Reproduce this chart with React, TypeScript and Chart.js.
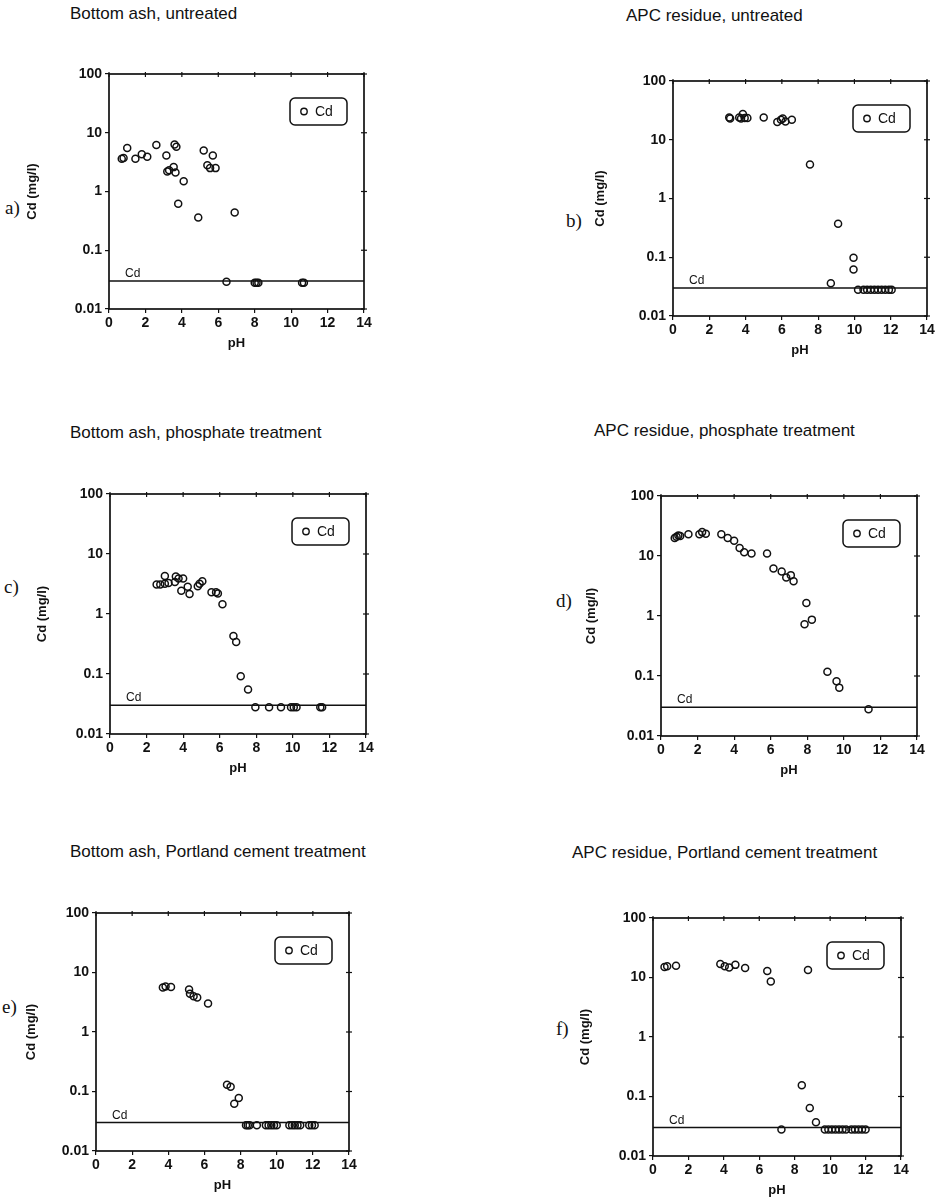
import React, { useEffect, useRef } from 'react';
import { Chart, registerables } from 'chart.js';

Chart.register(...registerables);
Chart.defaults.font.family = "'Liberation Sans', Arial, Helvetica, sans-serif";

// ---------- data ----------
const PH_A = [0.7, 0.8, 1.0, 1.45, 1.8, 2.1, 2.6, 3.15, 3.2, 3.3, 3.55, 3.6, 3.65, 3.7, 3.8, 4.1, 4.9, 5.2, 5.4, 5.55, 5.7, 5.85, 6.9, 6.45, 8.0, 8.1, 8.2, 10.6, 10.7];
const CD_A = [3.6, 3.7, 5.5, 3.6, 4.3, 3.9, 6.2, 4.1, 2.2, 2.3, 2.6, 6.3, 2.1, 5.8, 0.62, 1.5, 0.36, 5.0, 2.8, 2.5, 4.1, 2.5, 0.44, 0.029, 0.028, 0.028, 0.028, 0.028, 0.028];

const PH_B = [3.1, 3.15, 3.65, 3.75, 3.85, 3.95, 4.1, 5.0, 5.75, 5.95, 6.05, 6.2, 6.55, 7.55, 9.1, 9.95, 9.95, 8.7, 10.2, 10.5, 10.7, 10.9, 11.1, 11.3, 11.5, 11.7, 11.9, 12.05];
const CD_B = [24, 23, 24, 23, 27.5, 23.5, 23.5, 24, 20, 22, 23, 20.5, 22, 3.8, 0.37, 0.098, 0.062, 0.036, 0.028, 0.028, 0.028, 0.028, 0.028, 0.028, 0.028, 0.028, 0.028, 0.028];

const PH_C = [2.55, 2.75, 3.0, 3.0, 3.2, 3.55, 3.6, 3.75, 3.9, 4.0, 4.25, 4.35, 4.8, 4.9, 5.05, 5.55, 5.8, 5.9, 6.15, 6.75, 6.9, 7.15, 7.55, 7.95, 8.7, 9.35, 9.9, 10.05, 10.2, 11.5, 11.6];
const CD_C = [3.1, 3.1, 4.3, 3.2, 3.3, 3.4, 4.2, 3.9, 2.45, 3.9, 2.85, 2.15, 2.9, 3.2, 3.5, 2.3, 2.3, 2.2, 1.45, 0.43, 0.34, 0.092, 0.055, 0.028, 0.028, 0.028, 0.028, 0.028, 0.028, 0.028, 0.028];

const PH_D = [0.75, 0.85, 0.95, 1.05, 1.5, 2.1, 2.25, 2.45, 3.3, 3.65, 4.0, 4.3, 4.55, 4.95, 5.8, 6.15, 6.6, 6.85, 7.1, 7.25, 7.95, 7.85, 8.25, 9.1, 9.6, 9.75, 11.35];
const CD_D = [20, 21, 22, 21.5, 23, 23, 25, 23.5, 23, 20, 18, 13.6, 11.5, 11, 11, 6.2, 5.5, 4.4, 4.8, 3.8, 1.65, 0.73, 0.87, 0.118, 0.082, 0.064, 0.028];

const PH_E = [3.7, 3.85, 4.15, 5.15, 5.2, 5.4, 5.6, 6.2, 7.25, 7.45, 7.65, 7.9, 8.3, 8.4, 8.5, 8.9, 9.4, 9.55, 9.7, 9.85, 10.0, 10.7, 10.85, 11.0, 11.15, 11.3, 11.8, 11.95, 12.1];
const CD_E = [5.6, 5.8, 5.7, 5.2, 4.4, 4.0, 3.8, 3.0, 0.13, 0.12, 0.062, 0.078, 0.027, 0.027, 0.027, 0.027, 0.027, 0.027, 0.027, 0.027, 0.027, 0.027, 0.027, 0.027, 0.027, 0.027, 0.027, 0.027, 0.027];

const PH_F = [0.65, 0.8, 1.3, 3.8, 4.05, 4.3, 4.65, 5.2, 6.45, 6.65, 8.75, 8.4, 8.85, 9.2, 7.25, 9.7, 9.9, 10.1, 10.3, 10.5, 10.7, 10.9, 11.2, 11.4, 11.6, 11.8, 12.0];
const CD_F = [15, 15.5, 15.7, 16.8, 15.5, 14.7, 16.3, 14.4, 12.9, 8.6, 13.4, 0.155, 0.064, 0.037, 0.028, 0.028, 0.028, 0.028, 0.028, 0.028, 0.028, 0.028, 0.028, 0.028, 0.028, 0.028, 0.028];

const LIMIT_PH = [0, 14];
const LIMIT_CD = [0.03, 0.03];

const X_TICKS = [0, 2, 4, 6, 8, 10, 12, 14];
const Y_TICKS = [0.01, 0.1, 1, 10, 100];
const Y_TICK_LABELS = ['0.01', '0.1', '1', '10', '100'];
const SERIES_LABEL = 'Cd';
const X_TITLE = 'pH';
const Y_TITLE = 'Cd (mg/l)';

// ---------- layout (positions/styles only) ----------
type PanelCfg = {
  title: string; letter: string; ph: number[]; cd: number[];
  L: number; T: number; R: number; B: number; yGap: number;
  titleX: number; titleY: number; letterX: number; letterY: number;
};

const PANELS: PanelCfg[] = [
  { title: 'Bottom ash, untreated', letter: 'a)', ph: PH_A, cd: CD_A, L: 109, T: 74, R: 364, B: 309, yGap: 76, titleX: 70, titleY: 4, letterX: 5, letterY: 197 },
  { title: 'APC residue, untreated', letter: 'b)', ph: PH_B, cd: CD_B, L: 673, T: 81, R: 927, B: 316, yGap: 72, titleX: 626, titleY: 6, letterX: 566, letterY: 210 },
  { title: 'Bottom ash, phosphate treatment', letter: 'c)', ph: PH_C, cd: CD_C, L: 110, T: 494, R: 366, B: 734, yGap: 67, titleX: 70, titleY: 423, letterX: 4, letterY: 576 },
  { title: 'APC residue, phosphate treatment', letter: 'd)', ph: PH_D, cd: CD_D, L: 661, T: 496, R: 917, B: 736, yGap: 69, titleX: 594, titleY: 421, letterX: 556, letterY: 590 },
  { title: 'Bottom ash, Portland cement treatment', letter: 'e)', ph: PH_E, cd: CD_E, L: 96, T: 913, R: 349, B: 1151, yGap: 64, titleX: 70, titleY: 842, letterX: 2, letterY: 996 },
  { title: 'APC residue, Portland cement treatment', letter: 'f)', ph: PH_F, cd: CD_F, L: 653, T: 918, R: 901, B: 1156, yGap: 67, titleX: 572, titleY: 843, letterX: 556, letterY: 1018 },
];

const INK = '#111';
const PT = 20, PR = 10, XH = 42;

const framePlugin = {
  id: 'frame',
  afterDraw(chart: any) {
    const { ctx, chartArea, scales } = chart;
    const { left, top, right, bottom } = chartArea;
    const x = scales.x, y = scales.y;
    ctx.save();
    ctx.strokeStyle = INK;
    ctx.lineWidth = 1.7;
    ctx.strokeRect(left, top, right - left, bottom - top);
    ctx.lineWidth = 1.2;
    Y_TICKS.forEach((v) => {
      const py = y.getPixelForValue(v);
      ctx.beginPath(); ctx.moveTo(right - 3, py); ctx.lineTo(right + 3, py); ctx.stroke();
    });
    X_TICKS.forEach((v) => {
      const px = x.getPixelForValue(v);
      ctx.beginPath(); ctx.moveTo(px, top - 2); ctx.lineTo(px, top + 3); ctx.stroke();
    });
    // label of the detection-limit line
    const ly = y.getPixelForValue(LIMIT_CD[0]);
    ctx.fillStyle = INK;
    ctx.font = "12px 'Liberation Sans', Arial, sans-serif";
    ctx.textBaseline = 'alphabetic';
    ctx.textAlign = 'left';
    ctx.fillText(SERIES_LABEL, left + 16, ly - 4);
    // legend box
    const bw = 57, bh = 27;
    const bx = right - 17 - bw, by = top + 24;
    ctx.lineWidth = 1.5;
    ctx.beginPath();
    (ctx as any).roundRect(bx, by, bw, bh, 5);
    ctx.fillStyle = '#fff';
    ctx.fill();
    ctx.stroke();
    ctx.lineWidth = 1.4;
    ctx.beginPath();
    ctx.arc(bx + 14, by + bh / 2, 3.2, 0, Math.PI * 2);
    ctx.stroke();
    ctx.fillStyle = INK;
    ctx.font = "14px 'Liberation Sans', Arial, sans-serif";
    ctx.textBaseline = 'middle';
    ctx.fillText(SERIES_LABEL, bx + 25, by + bh / 2 + 1);
    ctx.restore();
  },
};

function Panel({ cfg }: { cfg: PanelCfg }) {
  const ref = useRef<HTMLCanvasElement>(null);
  const YW = cfg.yGap + 8;
  const left = cfg.L - YW;
  const top = cfg.T - PT;
  const width = YW + (cfg.R - cfg.L) + PR;
  const height = PT + (cfg.B - cfg.T) + XH;

  useEffect(() => {
    if (!ref.current) return;
    const chart = new Chart(ref.current, {
      type: 'scatter',
      data: {
        datasets: [
          {
            label: SERIES_LABEL,
            data: cfg.ph.map((v, i) => ({ x: v, y: cfg.cd[i] })),
            pointStyle: 'circle',
            pointRadius: 3.5,
            pointBorderWidth: 1.5,
            pointBorderColor: INK,
            pointBackgroundColor: 'rgba(255,255,255,0)',
          },
          {
            label: 'limit',
            data: LIMIT_PH.map((v, i) => ({ x: v, y: LIMIT_CD[i] })),
            showLine: true,
            borderColor: INK,
            borderWidth: 1.5,
            pointRadius: 0,
          },
        ],
      } as any,
      options: {
        animation: false,
        responsive: false,
        devicePixelRatio: 1,
        layout: { padding: { top: PT, right: PR, left: 0, bottom: 0 } },
        plugins: { legend: { display: false }, tooltip: { enabled: false } },
        scales: {
          x: {
            type: 'linear', min: 0, max: 14,
            afterBuildTicks: (s: any) => { s.ticks = X_TICKS.map((v) => ({ value: v })); },
            afterFit: (s: any) => { s.height = XH; },
            ticks: { font: { size: 14, weight: 'bold' }, color: INK, padding: 2, maxRotation: 0, autoSkip: false },
            grid: { drawOnChartArea: false, tickLength: 4, color: INK, lineWidth: 1.2 },
            border: { display: false },
            title: { display: true, text: X_TITLE, font: { size: 13, weight: 'bold', lineHeight: 1.2 }, color: INK, padding: 0 },
          },
          y: {
            type: 'logarithmic', min: 0.01, max: 100,
            afterBuildTicks: (s: any) => { s.ticks = Y_TICKS.map((v) => ({ value: v })); },
            afterFit: (s: any) => { s.width = YW; },
            ticks: {
              font: { size: 14, weight: 'bold' }, color: INK, padding: 3, autoSkip: false,
              callback: (v: any) => {
                const i = Y_TICKS.findIndex((t) => Math.abs(t - Number(v)) < t * 1e-6);
                return i >= 0 ? Y_TICK_LABELS[i] : '';
              },
            },
            grid: { drawOnChartArea: false, tickLength: 4, color: INK, lineWidth: 1.2 },
            border: { display: false },
            title: { display: true, text: Y_TITLE, font: { size: 13, weight: 'bold', lineHeight: 1.2 }, color: INK, padding: 0 },
          },
        },
      } as any,
      plugins: [framePlugin],
    });
    return () => chart.destroy();
  }, []);

  return (
    <>
      <canvas ref={ref} width={width} height={height}
        style={{ position: 'absolute', left, top, width, height }} />
      <div style={{ position: 'absolute', left: cfg.titleX, top: cfg.titleY, fontFamily: "'Liberation Sans', Arial, sans-serif", fontSize: 17, lineHeight: '20px', color: INK, whiteSpace: 'nowrap' }}>{cfg.title}</div>
      <div style={{ position: 'absolute', left: cfg.letterX, top: cfg.letterY, fontFamily: "'Liberation Serif', 'DejaVu Serif', serif", fontSize: 19, lineHeight: '22px', color: INK }}>{cfg.letter}</div>
    </>
  );
}

export default function App() {
  return (
    <div style={{ position: 'absolute', left: 0, top: 0, width: 938, height: 1198, overflow: 'hidden', background: '#fff' }}>
      {PANELS.map((p) => <Panel key={p.letter} cfg={p} />)}
    </div>
  );
}
